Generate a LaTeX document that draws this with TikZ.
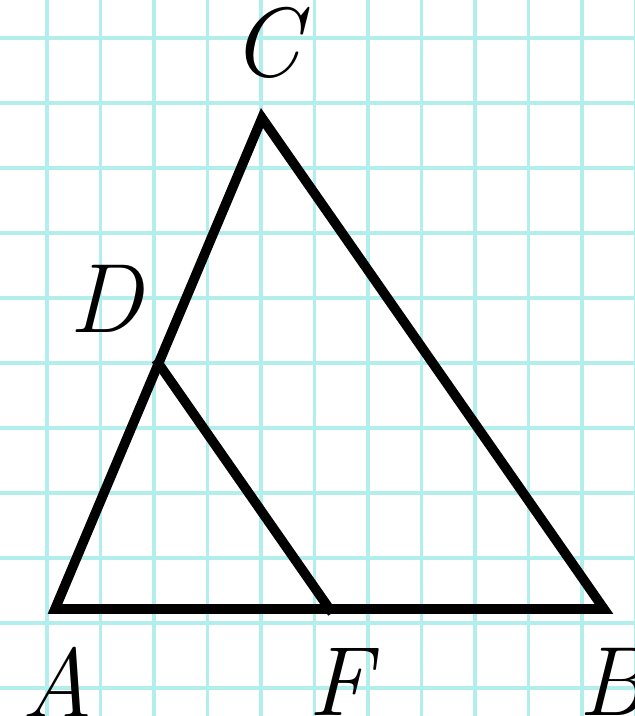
\documentclass[tikz,border=0pt]{standalone}
\usetikzlibrary{calc}
\definecolor{gridcyan}{RGB}{178,238,236}
\tikzset{
  side/.style={line width=0.29cm, line join=miter, line cap=rect},
  vlabel/.style={inner sep=0pt, font=\fontsize{84}{84}\selectfont\itshape}
}
\begin{document}
\begin{tikzpicture}[x=0.03cm,y=-0.03cm]
        \useasboundingbox (0,0) rectangle (635,716);
        \begin{scope}
            \clip (0,0) rectangle (635,716);
            \fill[white] (0,0) rectangle (635,716);
            \foreach \gx in {47,100.5,...,640}
                \draw[gridcyan, line width=0.1cm] (\gx,0) -- (\gx,716);
            \foreach \gy in {38,103,...,720}
                \draw[gridcyan, line width=0.1cm] (0,\gy) -- (635,\gy);
        \end{scope}

        \coordinate (A) at (55,609);
        \coordinate (B) at (604,609);
        \coordinate (C) at (262,118);
        \coordinate (D) at ($(A)!0.5!(C)$);
        \coordinate (F) at ($(A)!0.5!(B)$);

        \draw[side] (A) -- (C) -- (B) -- cycle;
        \draw[side] (D) -- (F);

        \node[vlabel] (lC) at (266,43) {C};
        \node[vlabel] (lD) at (106,299) {D};
        \node[vlabel] (lA) at (57,682) {A};
        \node[vlabel] (lF) at (340,682) {F};
        \node[vlabel] (lB) at (612,682) {B};
    \end{tikzpicture}
\end{document}
